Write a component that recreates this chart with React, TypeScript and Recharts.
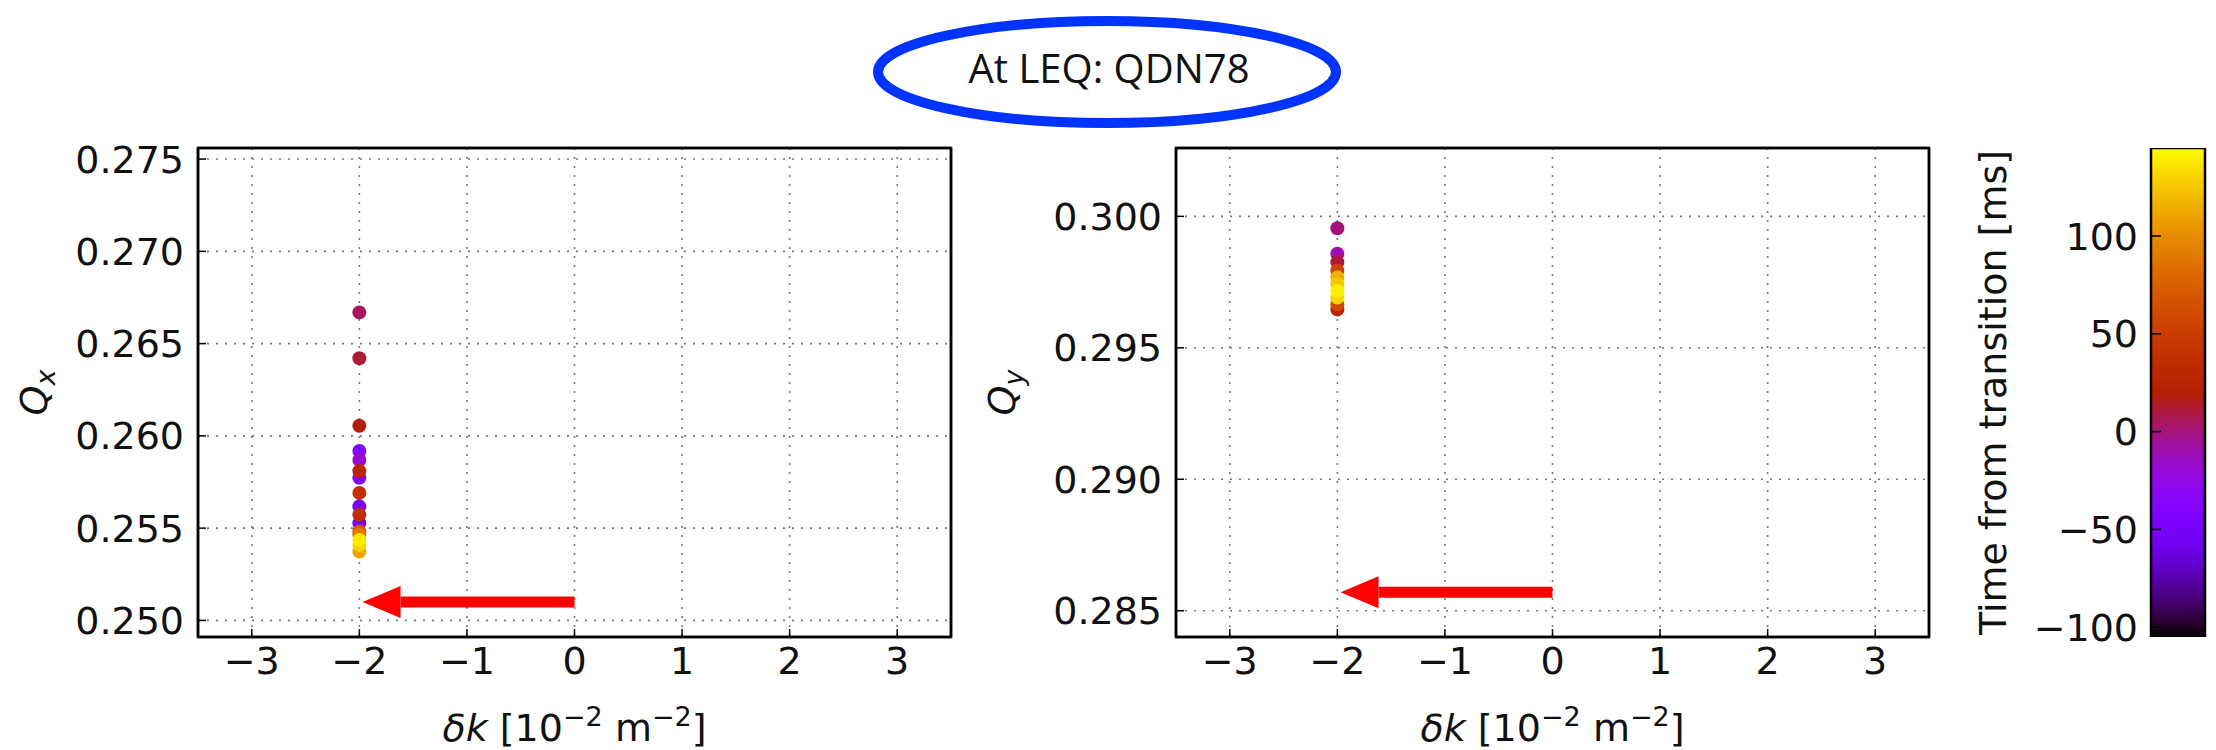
import React from 'react';
import {
  ScatterChart,
  Scatter,
  BarChart,
  Bar,
  XAxis,
  YAxis,
  CartesianGrid,
  ReferenceLine,
  ReferenceArea,
  Label,
} from 'recharts';

const FONT = "'DejaVu Sans', 'Noto Sans', sans-serif";

// Horizontal tune vs. quadrupole strength change, coloured by time from transition
const qxDk = [-2, -2, -2, -2, -2, -2, -2, -2, -2, -2, -2, -2, -2, -2, -2, -2];
const qxTune = [
  0.26669, 0.26421, 0.26055, 0.25918, 0.25869, 0.25809, 0.25773, 0.25691,
  0.25618, 0.25573, 0.25527, 0.25482, 0.25464, 0.25436, 0.25409, 0.25373,
];
const qxTime = [5, 12, 18, -40, -18, 28, -38, 38, -48, 35, -52, 70, 90, 138, 130, 112];

// Vertical tune
const qyDk = [-2, -2, -2, -2, -2, -2, -2, -2, -2, -2];
const qyTune = [
  0.29955, 0.29858, 0.29826, 0.29794, 0.29768, 0.29742, 0.29716, 0.29691,
  0.29665, 0.29646,
];
const qyTime = [0, -10, 10, 55, 115, 125, 140, 130, 60, 25];

const dkTicks = [-3, -2, -1, 0, 1, 2, 3];
const qxTicks = [0.25, 0.255, 0.26, 0.265, 0.27, 0.275];
const qyTicks = [0.285, 0.29, 0.295, 0.3];
const timeTicks = [-100, -50, 0, 50, 100];

// red arrows: tail at dk = 0, head near dk = -2
const qxArrow = [
  { x: 0, y: 0.251 },
  { x: -1.97, y: 0.251 },
];
const qyArrow = [
  { x: 0, y: 0.2857 },
  { x: -1.97, y: 0.2857 },
];

const DK_DOMAIN = [-3.5, 3.5];
const QX_DOMAIN = [0.2491, 0.2756];
const QY_DOMAIN = [0.284, 0.3026];
const TIME_MIN = -105;
const TIME_MAX = 145;

// colour scale spans the full time range
const colorbarData = [{ name: 'time', range: [TIME_MIN, TIME_MAX] }];

const H = 750;
const FRAME_TOP = 148;
const FRAME_BOTTOM = 637;
const PANEL_W = 980;
const YAXIS_W = 198;
const PANEL_RIGHT = 29;
const TICK_FONT = 38;

// matplotlib "gnuplot" colour map
const gnuplot = (t: number) => {
  const x = Math.min(1, Math.max(0, (t - TIME_MIN) / (TIME_MAX - TIME_MIN)));
  const r = Math.sqrt(x);
  const g = x * x * x;
  const b = Math.max(0, Math.sin(2 * Math.PI * x));
  const c = (v: number) => Math.round(v * 255);
  return `rgb(${c(r)},${c(g)},${c(b)})`;
};

const minus = (v: number) => (v < 0 ? `\u2212${Math.abs(v)}` : `${v}`);

const tickStyle = { fill: '#111', fontSize: TICK_FONT, fontFamily: FONT };
const frameLine = { stroke: '#000', strokeWidth: 2.5 };
const tickLine = { stroke: '#000', strokeWidth: 1.5 };

const dot = (p: any) => <circle cx={p.cx} cy={p.cy} r={7} fill={gnuplot(p.payload.t)} />;

const arrowShape = (p: any) => {
  const { x1, y1, x2, y2 } = p;
  const dir = x2 < x1 ? -1 : 1;
  const baseX = x2 - dir * 38;
  return (
    <g>
      <line x1={x1} y1={y1} x2={baseX} y2={y2} stroke="#ff0000" strokeWidth={11} />
      <polygon
        points={`${x2},${y2} ${baseX},${y2 - 16} ${baseX},${y2 + 16}`}
        fill="#ff0000"
      />
    </g>
  );
};

const plotMidX = YAXIS_W + (PANEL_W - YAXIS_W - PANEL_RIGHT) / 2;
const plotMidY = (FRAME_TOP + FRAME_BOTTOM) / 2;

const dkLabel = () => (
  <text x={plotMidX} y={741} textAnchor="middle" fontSize={TICK_FONT} fontFamily={FONT} fill="#111">
    <tspan fontStyle="italic">δk</tspan>
    <tspan> [10</tspan>
    <tspan dy={-15} fontSize={27}>−2</tspan>
    <tspan dy={15}> m</tspan>
    <tspan dy={-15} fontSize={27}>−2</tspan>
    <tspan dy={15}>]</tspan>
  </text>
);

const tuneLabel = (sub: string, x: number) => () => (
  <text
    x={x}
    y={plotMidY}
    transform={`rotate(-90 ${x} ${plotMidY})`}
    textAnchor="middle"
    fontSize={TICK_FONT}
    fontFamily={FONT}
    fill="#111"
  >
    <tspan fontStyle="italic">Q</tspan>
    <tspan fontStyle="italic" fontSize={27} dy={8}>{sub}</tspan>
  </text>
);

type PanelProps = {
  left: number;
  data: { dk: number; q: number; t: number }[];
  yDomain: number[];
  yTicks: number[];
  arrow: { x: number; y: number }[];
  sub: string;
  labelX: number;
};

const TunePanel = ({ left, data, yDomain, yTicks, arrow, sub, labelX }: PanelProps) => (
  <div style={{ position: 'absolute', left, top: 0 }}>
    <ScatterChart
      width={PANEL_W}
      height={H}
      margin={{ top: FRAME_TOP - 1, right: PANEL_RIGHT - 1, bottom: 0, left: 0 }}
    >
      <CartesianGrid stroke="#777" strokeWidth={1.6} strokeDasharray="2 7" />
      <XAxis
        type="number"
        dataKey="dk"
        domain={DK_DOMAIN}
        allowDataOverflow
        ticks={dkTicks}
        tickFormatter={minus}
        height={H - FRAME_BOTTOM}
        tick={tickStyle}
        axisLine={frameLine}
        tickLine={tickLine}
        tickSize={-8}
        tickMargin={18}
        interval={0}
      >
        <Label content={dkLabel} />
      </XAxis>
      <XAxis
        xAxisId="top"
        orientation="top"
        type="number"
        domain={DK_DOMAIN}
        allowDataOverflow
        ticks={dkTicks}
        height={1}
        tick={false}
        axisLine={frameLine}
        tickLine={tickLine}
        tickSize={-8}
      />
      <YAxis
        type="number"
        dataKey="q"
        domain={yDomain}
        allowDataOverflow
        ticks={yTicks}
        tickFormatter={(v: number) => v.toFixed(3)}
        width={YAXIS_W}
        tick={tickStyle}
        axisLine={frameLine}
        tickLine={tickLine}
        tickSize={-8}
        tickMargin={22}
        interval={0}
      >
        <Label content={tuneLabel(sub, labelX)} />
      </YAxis>
      <YAxis
        yAxisId="right"
        orientation="right"
        type="number"
        domain={yDomain}
        allowDataOverflow
        ticks={yTicks}
        width={1}
        tick={false}
        axisLine={frameLine}
        tickLine={tickLine}
        tickSize={-8}
      />
      <Scatter data={data} shape={dot} isAnimationActive={false} />
      <ReferenceLine segment={arrow} shape={arrowShape} />
      <ReferenceArea
        x1={DK_DOMAIN[0]}
        x2={DK_DOMAIN[1]}
        y1={yDomain[0]}
        y2={yDomain[1]}
        fill="none"
        stroke="#000"
        strokeWidth={2.5}
      />
    </ScatterChart>
  </div>
);

const colorStops = Array.from({ length: 41 }, (_, i) => i / 40);

const Colorbar = () => (
  <div style={{ position: 'absolute', left: 1960, top: 0 }}>
    <svg width={1} height={1} style={{ position: 'absolute', left: 0, top: 0 }}>
      <defs>
        <linearGradient id="gnuplotBar" x1="0" y1="1" x2="0" y2="0">
          {colorStops.map((s) => (
            <stop
              key={s}
              offset={s}
              stopColor={gnuplot(TIME_MIN + s * (TIME_MAX - TIME_MIN))}
            />
          ))}
        </linearGradient>
      </defs>
    </svg>
    <BarChart
      width={256}
      height={H}
      data={colorbarData}
      barCategoryGap={0}
      margin={{ top: FRAME_TOP, right: 11, bottom: H - FRAME_BOTTOM, left: 0 }}
    >
      <XAxis dataKey="name" type="category" hide />
      <YAxis
        type="number"
        domain={[TIME_MIN, TIME_MAX]}
        allowDataOverflow
        ticks={timeTicks}
        tickFormatter={minus}
        width={191}
        tick={tickStyle}
        axisLine={false}
        tickLine={tickLine}
        tickSize={-10}
        tickMargin={23}
        interval={0}
      >
        <Label
          content={() => (
            <text
              x={46}
              y={plotMidY}
              transform={`rotate(-90 46 ${plotMidY})`}
              textAnchor="middle"
              fontSize={TICK_FONT}
              fontFamily={FONT}
              fill="#111"
            >
              Time from transition [ms]
            </text>
          )}
        />
      </YAxis>
      <Bar
        dataKey="range"
        fill="url(#gnuplotBar)"
        stroke="#000"
        strokeWidth={2.5}
        isAnimationActive={false}
      />
    </BarChart>
  </div>
);

const qxPoints = qxTune
  .map((q, i) => ({ dk: qxDk[i], q, t: qxTime[i] }))
  .sort((a, b) => a.t - b.t);
const qyPoints = qyTune
  .map((q, i) => ({ dk: qyDk[i], q, t: qyTime[i] }))
  .sort((a, b) => a.t - b.t);

export default function App() {
  return (
    <div
      style={{
        position: 'absolute',
        left: 0,
        top: 0,
        width: 2216,
        height: H,
        background: '#fff',
        overflow: 'hidden',
      }}
    >
      <svg width={2216} height={150} style={{ position: 'absolute', left: 0, top: 0 }}>
        <ellipse cx={1107} cy={72} rx={229} ry={51} fill="none" stroke="#0033ff" strokeWidth={10} />
        <text
          x={1109}
          y={83}
          textAnchor="middle"
          fontSize={40}
          fontFamily="'Open Sans', 'Noto Sans', sans-serif"
          fill="#111"
        >
          At LEQ: QDN78
        </text>
      </svg>
      <TunePanel
        left={0}
        data={qxPoints}
        yDomain={QX_DOMAIN}
        yTicks={qxTicks}
        arrow={qxArrow}
        sub="x"
        labelX={47}
      />
      <TunePanel
        left={978}
        data={qyPoints}
        yDomain={QY_DOMAIN}
        yTicks={qyTicks}
        arrow={qyArrow}
        sub="y"
        labelX={37}
      />
      <Colorbar />
    </div>
  );
}
